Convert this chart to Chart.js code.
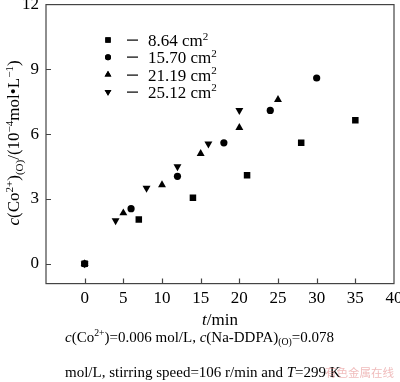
<!DOCTYPE html>
<html>
<head>
<meta charset="utf-8">
<script src="https://cdn.jsdelivr.net/npm/chart.js@4"></script>
<style>
html,body{margin:0;padding:0;background:#fff;}
#wrap{position:relative;width:400px;height:382px;}
</style>
</head>
<body>
<div id="wrap"><canvas id="c" width="400" height="382"></canvas></div>
<script>
// ---- data ----
const seriesLabels = ['8.64', '15.70', '21.19', '25.12'];
const t1 = [0, 7, 14, 21, 28, 35];
const c1 = [0, 2.05, 3.05, 4.1, 5.6, 6.65];
const t2 = [0, 6, 12, 18, 24, 30];
const c2 = [0, 2.55, 4.05, 5.6, 7.1, 8.6];
const t3 = [0, 5, 10, 15, 20, 25];
const c3 = [0, 2.35, 3.65, 5.1, 6.3, 7.6];
const t4 = [0, 4, 8, 12, 16, 20];
const c4 = [0, 2.0, 3.5, 4.5, 5.55, 7.1];
const xTicks = [0, 5, 10, 15, 20, 25, 30, 35, 40];
const yTicks = [0, 3, 6, 9, 12];

const SERIF = '"Liberation Serif", "DejaVu Serif", serif';
const INK = '#000';
const AXIS = '#444';

function pts(xs, ys){ return xs.map((x,i)=>({x:x, y:ys[i]})); }

const styles = [
  {pointStyle:'rect', radius:4.6, rotation:0},
  {pointStyle:'circle', radius:3.6, rotation:0},
  {pointStyle:'triangle', radius:4.6, rotation:0},
  {pointStyle:'triangle', radius:4.6, rotation:180}
];
const allX = [t1,t2,t3,t4], allY=[c1,c2,c3,c4];
const datasets = seriesLabels.map((lab,i)=>({
  label: lab,
  data: pts(allX[i], allY[i]),
  showLine:false,
  pointStyle: styles[i].pointStyle,
  pointRadius: styles[i].radius,
  pointHoverRadius: styles[i].radius,
  pointRotation: styles[i].rotation,
  backgroundColor: INK,
  borderColor: INK,
  borderWidth: 0
}));

function richWidth(ctx, runs, size){
  let w=0;
  runs.forEach(r=>{
    const s = r.p ? size*0.65 : size;
    ctx.font = (r.i?'italic ':'') + s + 'px ' + SERIF;
    w += ctx.measureText(r.t).width;
  });
  return w;
}
function drawRich(ctx, runs, x, y, size){
  let cx = x;
  runs.forEach(r=>{
    const s = r.p ? size*0.65 : size;
    ctx.font = (r.i?'italic ':'') + s + 'px ' + SERIF;
    let dy = 0;
    if (r.p==='sup') dy = -size*0.38;
    if (r.p==='sub') dy = size*0.22;
    ctx.fillText(r.t, cx, y+dy);
    cx += ctx.measureText(r.t).width;
  });
}

const decor = {
  id:'decor',
  afterDraw(chart){
    const ctx = chart.ctx;
    const a = chart.chartArea;
    const xs = chart.scales.x, ys = chart.scales.y;
    ctx.save();
    ctx.strokeStyle = AXIS; ctx.lineWidth = 1.2;
    ctx.strokeRect(a.left, a.top, a.right-a.left, a.bottom-a.top);
    ctx.beginPath();
    xTicks.forEach(v=>{
      if (v<=xs.min || v>=xs.max) return;
      const px = Math.round(xs.getPixelForValue(v))+0.5;
      ctx.moveTo(px, a.bottom); ctx.lineTo(px, a.bottom-5);
    });
    yTicks.forEach(v=>{
      if (v<=ys.min || v>=ys.max) return;
      const py = Math.round(ys.getPixelForValue(v))+0.5;
      ctx.moveTo(a.left, py); ctx.lineTo(a.left+5, py);
    });
    ctx.stroke();

    ctx.fillStyle = INK;
    ctx.textBaseline = 'alphabetic';
    ctx.textAlign = 'left';
    const lx = 108, ly0 = 40, dyL = 17.3;
    chart.data.datasets.forEach((ds,i)=>{
      const y = ly0 + i*dyL;
      const st = styles[i];
      const r = st.pointStyle==='circle' ? 3.0 : (st.pointStyle==='rect'?3.8:3.9);
      Chart.helpers.drawPoint(ctx, {pointStyle: st.pointStyle, rotation: st.rotation, radius: r, borderWidth:0}, lx, y);
      ctx.fill();
      ctx.fillRect(127, Math.round(y)-0.5, 11, 1.2);
      drawRich(ctx, [{t: ds.label + ' cm'}, {t:'2', p:'sup'}], 148, y+6, 17);
    });
    const xr = [{t:'t', i:true},{t:'/min'}];
    const xw = richWidth(ctx, xr, 17);
    drawRich(ctx, xr, (a.left+a.right)/2 - xw/2, 325, 17);
    const yr = [{t:'c', i:true},{t:'(Co'},{t:'2+',p:'sup'},{t:')'},{t:'(O)',p:'sub'},{t:'/(10'},{t:'\u22124',p:'sup'},{t:'mol\u2022L'},{t:'\u22121',p:'sup'},{t:')'}];
    const yw = richWidth(ctx, yr, 17);
    ctx.save();
    ctx.translate(19, 143);
    ctx.rotate(-Math.PI/2);
    drawRich(ctx, yr, -yw/2, 0, 17);
    ctx.restore();
    const l1 = [{t:'c',i:true},{t:'(Co'},{t:'2+',p:'sup'},{t:')=0.006 mol/L, '},{t:'c',i:true},{t:'(Na-DDPA)'},{t:'(O)',p:'sub'},{t:'=0.078'}];
    drawRich(ctx, l1, 65, 342, 15);
    const l2 = [{t:'mol/L, stirring speed=106 r/min and '},{t:'T',i:true},{t:'=299 K'}];
    drawRich(ctx, l2, 65, 377, 15);
    ctx.fillStyle = 'rgba(225,120,120,0.5)';
    ctx.font = '11.5px "Noto Sans CJK SC", sans-serif';
    ctx.fillText('有色金属在线', 325, 377);
    ctx.restore();
  }
};

new Chart(document.getElementById('c'), {
  type:'scatter',
  data:{datasets},
  options:{
    responsive:false,
    animation:false,
    devicePixelRatio:1,
    layout:{padding:{left:15, right:6, top:0, bottom:68}},
    plugins:{legend:{display:false}, tooltip:{enabled:false}},
    scales:{
      x:{
        type:'linear', min:-5, max:40,
        afterBuildTicks(s){ s.ticks = xTicks.map(v=>({value:v})); },
        afterFit(s){ s.paddingLeft = 0; s.paddingRight = 0; },
        grid:{display:false, drawTicks:false},
        border:{display:false},
        ticks:{color:INK, padding:5, maxRotation:0, autoSkip:false, font:{family:SERIF, size:17}}
      },
      y:{
        type:'linear', min:-0.92, max:12,
        afterBuildTicks(s){ s.ticks = yTicks.map(v=>({value:v})); },
        afterFit(s){ s.paddingTop = 4; s.paddingBottom = 0; },
        grid:{display:false, drawTicks:false},
        border:{display:false},
        ticks:{color:INK, padding:7, autoSkip:false, font:{family:SERIF, size:17}}
      }
    }
  },
  plugins:[decor]
});
</script>
</body>
</html>
